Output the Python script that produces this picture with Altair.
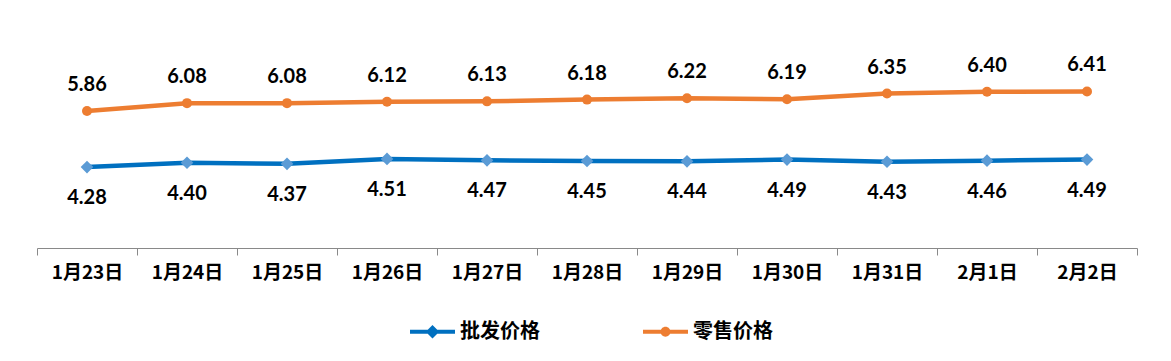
import altair as alt
import pandas as pd

dates = ["1月23日", "1月24日", "1月25日", "1月26日", "1月27日", "1月28日",
         "1月29日", "1月30日", "1月31日", "2月1日", "2月2日"]
wholesale = [4.28, 4.40, 4.37, 4.51, 4.47, 4.45, 4.44, 4.49, 4.43, 4.46, 4.49]
retail = [5.86, 6.08, 6.08, 6.12, 6.13, 6.18, 6.22, 6.19, 6.35, 6.40, 6.41]
series = ["批发价格", "零售价格"]
line_colors = ["#0070C0", "#ED7D31"]
marker_colors = ["#5B9BD5", "#ED7D31"]

rows = []
for d, w, r in zip(dates, wholesale, retail):
    rows.append({"date": d, "series": series[0], "price": w})
    rows.append({"date": d, "series": series[1], "price": r})
df = pd.DataFrame(rows)

x = alt.X("date:N", sort=dates, bandPosition=0.5,
          scale=alt.Scale(type="band", paddingInner=0, paddingOuter=0),
          axis=alt.Axis(title=None, labelAngle=0, labelFontSize=19, labelFontWeight="bold",
                        labelFont="Noto Sans CJK SC", labelColor="black", tickBand="extent",
                        tickColor="#898989", domainColor="#898989", tickSize=7,
                        labelPadding=8, grid=False, domainWidth=1))
y = alt.Y("price:Q", scale=alt.Scale(domain=[2, 8.76], zero=False, nice=False), axis=None)

base = alt.Chart(df).encode(x=x, y=y)

lines = base.mark_line(strokeWidth=4.5).encode(
    color=alt.Color("series:N", scale=alt.Scale(domain=series, range=line_colors), legend=None))

pts_w = base.transform_filter(alt.datum.series == series[0]).mark_point(
    shape="diamond", filled=True, size=160, opacity=1, color=marker_colors[0])
pts_r = base.transform_filter(alt.datum.series == series[1]).mark_point(
    shape="circle", filled=True, size=100, opacity=1, color=marker_colors[1])

lab_w = base.transform_filter(alt.datum.series == series[0]).mark_text(
    dy=31, fontSize=20, fontWeight="bold", font="Lato", color="black").encode(
    text=alt.Text("price:Q", format=".2f"))
lab_r = base.transform_filter(alt.datum.series == series[1]).mark_text(
    dy=-26, fontSize=20, fontWeight="bold", font="Lato", color="black").encode(
    text=alt.Text("price:Q", format=".2f"))

diamond_sym = "M-1,-0.09H1V0.09H-1Z M0,-0.3L0.3,0L0,0.3L-0.3,0Z"
circle_sym = "M-1,-0.09H1V0.09H-1Z M-0.22,0A0.22,0.22,0,1,1,0.22,0A0.22,0.22,0,1,1,-0.22,0Z"

legend_layer = alt.Chart(df).transform_filter("false").mark_point(
    filled=True, opacity=1).encode(
    x=x, y=y,
    color=alt.Color("series:N", scale=alt.Scale(domain=series, range=line_colors), title=None,
                    legend=alt.Legend(orient="none", legendX=373, legendY=301,
                                      direction="horizontal", symbolSize=2025,
                                      symbolStrokeWidth=0, labelFontSize=20,
                                      labelFont="Noto Sans CJK SC", labelFontWeight="bold",
                                      labelColor="black", columnPadding=103, labelOffset=5,
                                      symbolOpacity=1, title=None)),
    shape=alt.Shape("series:N", scale=alt.Scale(domain=series, range=[diamond_sym, circle_sym]),
                    title=None),
)

chart = alt.layer(lines, pts_w, pts_r, lab_w, lab_r, legend_layer).resolve_scale(
    color="independent", shape="independent"
).properties(
    width=1100, height=240,
    background="white",
    autosize=alt.AutoSizeParams(type="none"),
    padding={"left": 29, "top": 0, "right": 20, "bottom": 100},
).configure_view(stroke=None)

chart.save("out.html", embed_options={"renderer": "svg", "actions": False})
